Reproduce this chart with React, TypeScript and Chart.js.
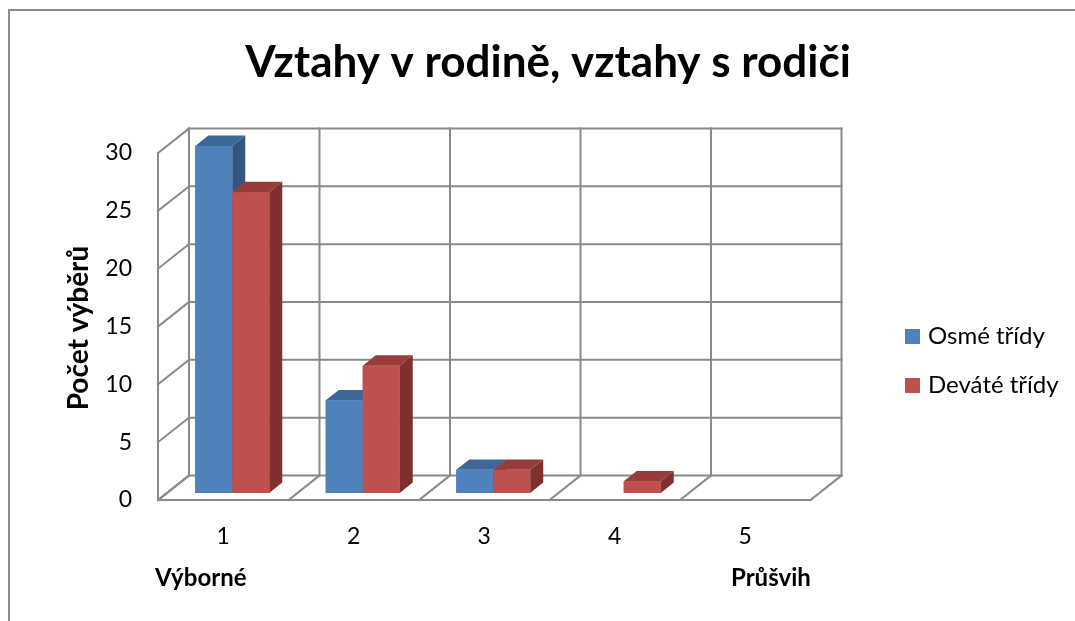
import React, { useEffect, useRef } from "react";
import { Chart, registerables } from "chart.js";

Chart.register(...registerables);

const categories = ["1", "2", "3", "4", "5"];
const osmeTridy = [30, 8, 2, 0, 0];
const devateTridy = [26, 11, 2, 1, 0];
const seriesNames = ["Osmé třídy", "Deváté třídy"];
const yMin = 0;
const yMax = 30;
const yStep = 5;
const titleText = "Vztahy v rodině, vztahy s rodiči";
const yAxisTitle = "Počet výběrů";
const leftNote = "Výborné";
const rightNote = "Průšvih";

const FRONT = ["#4F81BD", "#C0504D"];
const TOP = ["#3D6797", "#973C3A"];
const SIDE = ["#32547E", "#7D302E"];
const GRID = "#8A8A8A";
const FONT = "Lato, 'Open Sans', sans-serif";

// oblique projection of the full depth of the plot box
const DX = 31;
const DY = -24.5;
const BAR_FRONT = 0.29;
const BAR_BACK = 0.71;

const threeD = {
  id: "threeD",
  beforeDatasetsDraw(chart: any) {
    const { ctx, chartArea: a, scales } = chart;
    const y = scales.y;
    const n = categories.length;
    const y0 = y.getPixelForValue(yMin);
    const yT = y.getPixelForValue(yMax);
    ctx.save();
    ctx.strokeStyle = GRID;
    ctx.lineWidth = 2;
    ctx.lineCap = "square";
    const line = (x1: number, y1: number, x2: number, y2: number) => {
      ctx.beginPath();
      ctx.moveTo(x1, y1);
      ctx.lineTo(x2, y2);
      ctx.stroke();
    };
    for (let v = yMin; v <= yMax; v += yStep) {
      const yp = y.getPixelForValue(v);
      line(a.left + DX, yp + DY, a.right + DX, yp + DY);
      line(a.left, yp, a.left + DX, yp + DY);
    }
    for (let i = 0; i <= n; i++) {
      const xf = a.left + (i * (a.right - a.left)) / n;
      line(xf + DX, yT + DY, xf + DX, y0 + DY);
      line(xf, y0, xf + DX, y0 + DY);
    }
    line(a.left, y0, a.right, y0);
    line(a.left, yT, a.left, y0);
    ctx.restore();
    ctx.save();
    ctx.translate(DX * BAR_FRONT, DY * BAR_FRONT);
  },
  afterDatasetsDraw(chart: any) {
    const { ctx } = chart;
    const ddx = DX * (BAR_BACK - BAR_FRONT);
    const ddy = DY * (BAR_BACK - BAR_FRONT);
    const metas = chart.getSortedVisibleDatasetMetas().slice().sort((p: any, q: any) => p.index - q.index);
    const n = categories.length;
    for (let i = 0; i < n; i++) {
      for (const meta of metas) {
        const el = meta.data[i];
        if (!el) continue;
        const { x, y, base, width } = el.getProps(["x", "y", "base", "width"], true);
        if (Math.abs(base - y) < 0.5) continue;
        const l = x - width / 2;
        const r = x + width / 2;
        const di = meta.index;
        ctx.fillStyle = SIDE[di];
        ctx.beginPath();
        ctx.moveTo(r, y);
        ctx.lineTo(r + ddx, y + ddy);
        ctx.lineTo(r + ddx, base + ddy);
        ctx.lineTo(r, base);
        ctx.closePath();
        ctx.fill();
        ctx.fillStyle = TOP[di];
        ctx.beginPath();
        ctx.moveTo(l, y);
        ctx.lineTo(l + ddx, y + ddy);
        ctx.lineTo(r + ddx, y + ddy);
        ctx.lineTo(r, y);
        ctx.closePath();
        ctx.fill();
        ctx.fillStyle = FRONT[di];
        ctx.fillRect(l, y, width, base - y);
      }
    }
    ctx.restore();
  },
  afterDraw(chart: any) {
    const { ctx } = chart;
    ctx.save();
    ctx.strokeStyle = "#8C8C8C";
    ctx.lineWidth = 2;
    ctx.strokeRect(9, 10, 1100, 700);
    ctx.fillStyle = "#000";
    ctx.font = `bold 44px ${FONT}`;
    ctx.textAlign = "center";
    ctx.textBaseline = "middle";
    ctx.fillText(titleText, 548, 63);
    ctx.save();
    ctx.translate(79, 328);
    ctx.rotate(-Math.PI / 2);
    ctx.font = `bold 28px ${FONT}`;
    ctx.fillText(yAxisTitle, 0, 0);
    ctx.restore();
    ctx.font = `bold 24px ${FONT}`;
    ctx.textAlign = "left";
    ctx.fillText(leftNote, 155, 578);
    ctx.fillText(rightNote, 731, 578);
    ctx.font = `24px ${FONT}`;
    seriesNames.forEach((name, i) => {
      const cy = 336.5 + i * 49;
      ctx.fillStyle = FRONT[i];
      ctx.fillRect(905, cy - 7.5, 15, 15);
      ctx.fillStyle = "#000";
      ctx.fillText(name, 928, cy);
    });
    ctx.restore();
  },
};

export default function App() {
  const ref = useRef<HTMLCanvasElement>(null);
  useEffect(() => {
    if (!ref.current) return;
    const chart = new Chart(ref.current, {
      type: "bar",
      data: {
        labels: categories,
        datasets: [
          { label: seriesNames[0], data: osmeTridy, backgroundColor: FRONT[0], clip: false as any },
          { label: seriesNames[1], data: devateTridy, backgroundColor: FRONT[1], clip: false as any },
        ],
      },
      options: {
        responsive: false,
        animation: false,
        events: [],
        layout: { padding: { top: 153, left: 0, right: 1075 - 810.5, bottom: 61 } },
        datasets: { bar: { categoryPercentage: 0.567, barPercentage: 1 } },
        plugins: { legend: { display: false }, title: { display: false }, tooltip: { enabled: false } },
        scales: {
          x: {
            grid: { display: false, drawTicks: false },
            border: { display: false },
            ticks: { color: "#000", font: { family: FONT, size: 23 }, padding: 23 },
            afterFit: (s: any) => { s.height = 60; },
          },
          y: {
            min: yMin,
            max: yMax,
            grid: { display: false, drawTicks: false },
            border: { display: false },
            ticks: { stepSize: yStep, color: "#000", font: { family: FONT, size: 23 }, padding: 26 },
            afterFit: (s: any) => { s.width = 158; },
          },
        },
      },
      plugins: [threeD],
    });
    return () => chart.destroy();
  }, []);
  return (
    <div style={{ position: "fixed", left: 0, top: 0, width: 1075, height: 621, background: "#fff" }}>
      <canvas ref={ref} width={1075} height={621} style={{ display: "block" }} />
    </div>
  );
}
